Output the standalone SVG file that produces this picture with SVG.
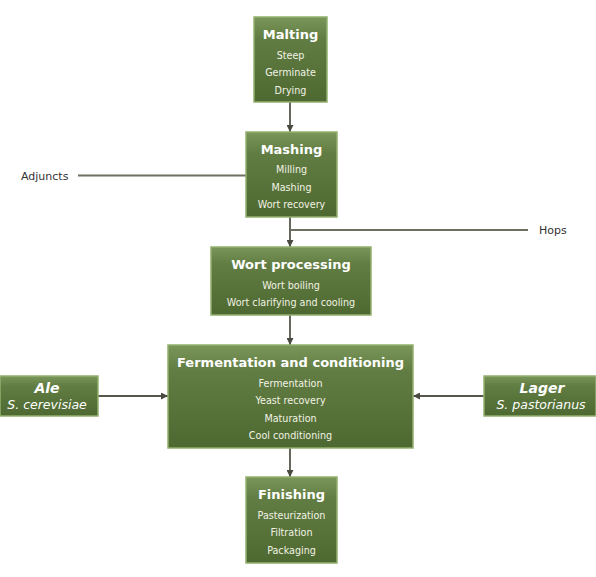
<svg xmlns="http://www.w3.org/2000/svg" width="596" height="577" viewBox="0 0 596 577">
<defs>
<linearGradient id="g" x1="0" y1="0" x2="0" y2="1">
<stop offset="0" stop-color="#7a9659"/>
<stop offset="0.25" stop-color="#627d43"/>
<stop offset="1" stop-color="#4d6931"/>
</linearGradient>
<marker id="a" viewBox="0 0 10 10" refX="10" refY="5" markerWidth="7" markerHeight="7" markerUnits="userSpaceOnUse" orient="auto">
<path d="M0,0 L10,5 L0,10 z" fill="#4a4a40"/>
</marker>
</defs>
<style>
.box{fill:url(#g);stroke:#93b06e;stroke-width:1.5}
.t{font-family:"DejaVu Sans",Verdana,sans-serif;font-weight:bold;font-size:13px;fill:#ffffff;text-anchor:middle}
.s{font-family:"DejaVu Sans",Verdana,sans-serif;font-size:9.6px;fill:#f2f2e4;text-anchor:middle}
.ti{font-family:"DejaVu Sans",Verdana,sans-serif;font-weight:bold;font-style:italic;font-size:14px;fill:#ffffff;text-anchor:middle}
.si{font-family:"DejaVu Sans",Verdana,sans-serif;font-style:italic;font-size:12.5px;fill:#ffffff;text-anchor:middle}
.lbl{font-family:"DejaVu Sans",Verdana,sans-serif;font-size:11px;fill:#333333}
.c{stroke:#56564a;stroke-width:1.8;fill:none}
.cg{stroke:#6f6f60;stroke-width:1.8;fill:none}
</style>
<rect width="596" height="577" fill="#ffffff"/>
<g id="connectors">
<line class="c" x1="290" y1="102" x2="290" y2="132" marker-end="url(#a)"/>
<line class="c" x1="290" y1="217" x2="290" y2="247" marker-end="url(#a)"/>
<line class="c" x1="290" y1="315" x2="290" y2="345" marker-end="url(#a)"/>
<line class="c" x1="290" y1="448" x2="290" y2="477" marker-end="url(#a)"/>
<line class="cg" x1="78" y1="175.5" x2="246" y2="175.5"/>
<line class="cg" x1="290" y1="230" x2="528" y2="230"/>
<line class="c" x1="98" y1="396" x2="168" y2="396" marker-end="url(#a)"/>
<line class="c" x1="484" y1="396" x2="413" y2="396" marker-end="url(#a)"/>
</g>
<g id="malting">
<rect class="box" x="254" y="17" width="73" height="85"/>
<text class="t" x="290.5" y="39">Malting</text>
<text class="s" x="290.5" y="58.5">Steep</text>
<text class="s" x="290.5" y="76">Germinate</text>
<text class="s" x="290.5" y="93.5">Drying</text>
</g>
<g id="mashing">
<rect class="box" x="246" y="132" width="91" height="85"/>
<text class="t" x="291.5" y="154">Mashing</text>
<text class="s" x="291.5" y="172.5">Milling</text>
<text class="s" x="291.5" y="190.5">Mashing</text>
<text class="s" x="291.5" y="207.5">Wort recovery</text>
</g>
<g id="wort">
<rect class="box" x="211" y="247" width="160" height="68"/>
<text class="t" x="291" y="269">Wort processing</text>
<text class="s" x="291" y="288.5">Wort boiling</text>
<text class="s" x="291" y="305.5">Wort clarifying and cooling</text>
</g>
<g id="fermentation">
<rect class="box" x="168" y="345" width="245" height="103"/>
<text class="t" x="290.5" y="367">Fermentation and conditioning</text>
<text class="s" x="290.5" y="386.5">Fermentation</text>
<text class="s" x="290.5" y="403.5">Yeast recovery</text>
<text class="s" x="290.5" y="421.5">Maturation</text>
<text class="s" x="290.5" y="438.5">Cool conditioning</text>
</g>
<g id="finishing">
<rect class="box" x="246" y="477" width="91" height="86"/>
<text class="t" x="291.5" y="499">Finishing</text>
<text class="s" x="291.5" y="518.5">Pasteurization</text>
<text class="s" x="291.5" y="535.5">Filtration</text>
<text class="s" x="291.5" y="553.5">Packaging</text>
</g>
<g id="ale">
<rect class="box" x="0" y="376" width="98" height="40"/>
<text class="ti" x="47" y="393">Ale</text>
<text class="si" x="47" y="409">S. cerevisiae</text>
</g>
<g id="lager">
<rect class="box" x="484" y="376" width="112" height="40"/>
<text class="ti" x="542" y="393">Lager</text>
<text class="si" x="541" y="409">S. pastorianus</text>
</g>
<g id="adjuncts">
<text class="lbl" x="21" y="179.5">Adjuncts</text>
</g>
<g id="hops">
<text class="lbl" x="539" y="234">Hops</text>
</g>
</svg>
